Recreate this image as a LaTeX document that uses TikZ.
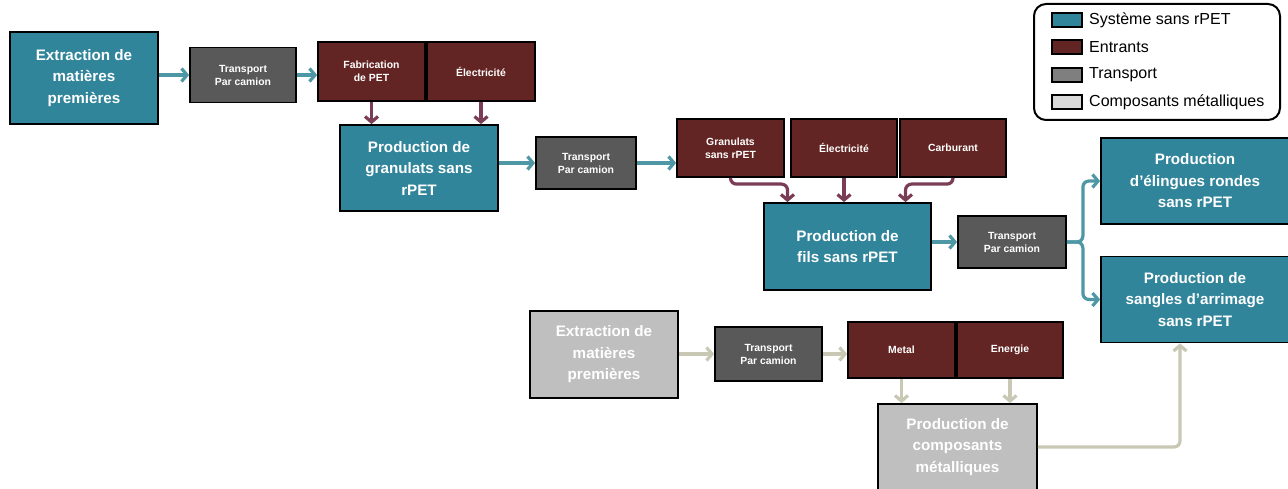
\documentclass[tikz,border=0pt]{standalone}
\usepackage{fontspec}
\setmainfont{Liberation Sans}
\usetikzlibrary{arrows.meta,calc}
\definecolor{tealbox}{RGB}{49,133,155}
\definecolor{marbox}{RGB}{99,37,35}
\definecolor{trbox}{RGB}{89,89,89}
\definecolor{greybox}{RGB}{191,191,191}
\definecolor{legtr}{RGB}{127,127,127}
\definecolor{legcomp}{RGB}{217,217,217}
\definecolor{tealarr}{RGB}{78,151,165}
\definecolor{mararr}{RGB}{122,61,85}
\definecolor{greyarr}{RGB}{200,200,180}
\tikzset{
  box/.style={draw=black, line width=1.8pt, align=center, text=white, font=\bfseries, inner sep=2pt},
  bigbox/.style={box, font=\fontsize{15.2}{21.5}\selectfont\bfseries},
  smallbox/.style={box, font=\fontsize{10.4}{13}\selectfont\bfseries},
  sysbox/.style={bigbox, fill=tealbox},
  compbox/.style={bigbox, fill=greybox},
  inbox/.style={smallbox, fill=marbox},
  trpbox/.style={smallbox, fill=trbox},
  flow/.style={line width=3.2pt, -{Straight Barb[length=5.5pt,width=13pt]}},
  tarrow/.style={flow, draw=tealarr},
  marrow/.style={flow, draw=mararr},
  garrow/.style={flow, draw=greyarr},
  swatch/.style={draw=black, line width=1.4pt, minimum width=30pt, minimum height=14pt, inner sep=0pt},
  legtext/.style={anchor=west, font=\fontsize{16}{18}\selectfont, inner sep=0pt},
}
\begin{document}
\begin{tikzpicture}[x=1pt,y=-1pt]
\useasboundingbox (0,0) rectangle (1288,489);
\fill[white] (0,0) rectangle (1288,489);

% first row
\node[sysbox, minimum width=148pt, minimum height=92pt] (ex1) at (84,78) {Extraction de\\matières\\premières};
\node[trpbox, minimum width=106pt, minimum height=55pt] (tr1) at (243,75) {Transport\\Par camion};
\node[inbox, minimum width=107pt, minimum height=59pt] (fab) at (371.5,71.5) {Fabrication\\de PET};
\node[inbox, minimum width=108pt, minimum height=59pt] (el1) at (481,71.5) {Électricité};
\node[sysbox, minimum width=158pt, minimum height=86pt] (pg) at (419,168) {Production de\\granulats sans\\rPET};

% second row
\node[trpbox, minimum width=100pt, minimum height=52pt] (tr2) at (586,163) {Transport\\Par camion};
\node[inbox, minimum width=107pt, minimum height=58pt] (gr) at (730.5,148) {Granulats\\sans rPET};
\node[inbox, minimum width=106pt, minimum height=58pt] (el2) at (844,148) {Électricité};
\node[inbox, minimum width=106pt, minimum height=58pt] (ca) at (953,148) {Carburant};
\node[sysbox, minimum width=167pt, minimum height=87pt] (pf) at (847.5,246.5) {Production de\\fils sans rPET};
\node[trpbox, minimum width=108pt, minimum height=52pt] (tr3) at (1012,242) {Transport\\Par camion};
\node[sysbox, minimum width=188pt, minimum height=86pt] (pe) at (1195,181) {Production\\d’élingues rondes\\sans rPET};
\node[sysbox, minimum width=188pt, minimum height=86pt] (ps) at (1195,299.5) {Production de\\sangles d’arrimage\\sans rPET};

% metal row
\node[compbox, minimum width=148pt, minimum height=87pt] (ex2) at (604,354.5) {Extraction de\\matières\\premières};
\node[trpbox, minimum width=107pt, minimum height=54pt] (tr4) at (768.5,354) {Transport\\Par camion};
\node[inbox, minimum width=107pt, minimum height=56pt] (me) at (901.5,350) {Metal};
\node[inbox, minimum width=106pt, minimum height=56pt] (en) at (1010,350) {Energie};
\node[compbox, minimum width=159pt, minimum height=86pt] (pc) at (957.5,447) {Production de\\composants\\métalliques};

% teal arrows
\draw[tarrow] (ex1.east |- tr1.west) -- (tr1.west);
\draw[tarrow] (tr1.east) -- (tr1.east -| fab.west);
\draw[tarrow] (pg.east |- tr2.west) -- (tr2.west);
\draw[tarrow] (tr2.east) -- (tr2.east -| gr.west);
\draw[tarrow] (pf.east |- tr3.west) -- (tr3.west);
\draw[tarrow, rounded corners=6pt] (tr3.east) -- ++(16,0) |- (pe.west);
\draw[tarrow, rounded corners=6pt] (tr3.east) -- ++(16,0) |- (ps.west);

% maroon arrows
\draw[marrow] (fab.south) -- (fab.south |- pg.north);
\draw[marrow] (el1.south) -- (el1.south |- pg.north);
\draw[marrow, rounded corners=6pt] (gr.south) |- ([xshift=-60pt,yshift=18pt]pf.north) -- ([xshift=-60pt]pf.north);
\draw[marrow] (el2.south) -- (el2.south |- pf.north);
\draw[marrow, rounded corners=6pt] (ca.south) |- ([xshift=58pt,yshift=18pt]pf.north) -- ([xshift=58pt]pf.north);

% grey arrows
\draw[garrow] (ex2.east |- tr4.west) -- (tr4.west);
\draw[garrow] (tr4.east) -- (tr4.east -| me.west);
\draw[garrow] (me.south) -- (me.south |- pc.north);
\draw[garrow] (en.south) -- (en.south |- pc.north);
\draw[garrow, rounded corners=6pt] (pc.east) -| ([xshift=-15pt]ps.south);

% legend
\draw[line width=2pt, rounded corners=12pt] (1034,4) rectangle (1280,120);
\node[swatch, fill=tealbox] (s1) at (1067,20) {};
\node[swatch, fill=marbox] (s2) at (1067,47) {};
\node[swatch, fill=legtr] (s3) at (1067,75) {};
\node[swatch, fill=legcomp] (s4) at (1067,102) {};
\node[legtext] (l1) at (1089,20) {Système sans rPET};
\node[legtext] (l2) at (1089,47) {Entrants};
\node[legtext] (l3) at (1089,75) {Transport};
\node[legtext] (l4) at (1089,102) {Composants métalliques};
\end{tikzpicture}
\end{document}
